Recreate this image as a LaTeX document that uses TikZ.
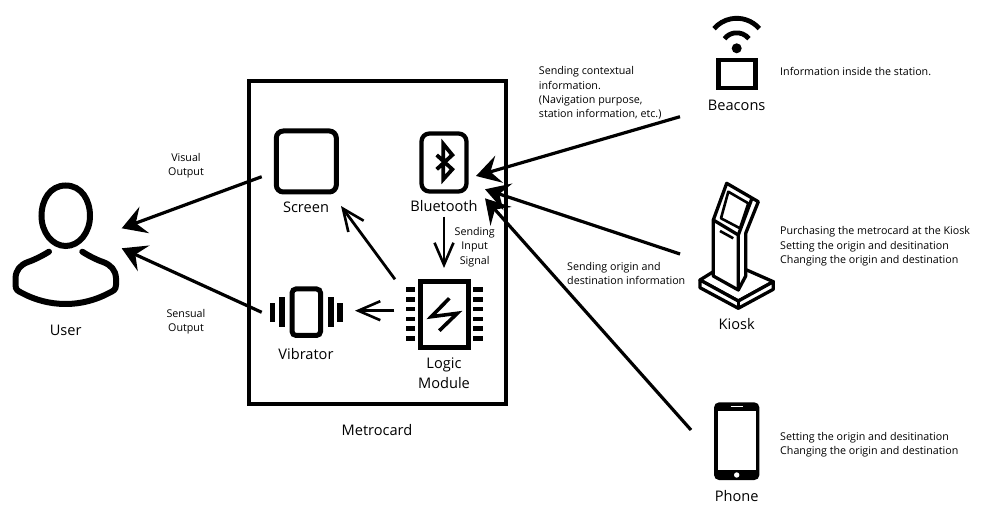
\documentclass[tikz,border=0pt]{standalone}
\usepackage{fontspec}
\setmainfont{Open Sans}
\usetikzlibrary{arrows.meta}
\tikzset{
  x=1pt,y=-1pt,
  lab/.style={font=\fontsize{14.6}{17}\selectfont,inner sep=0pt,align=center},
  note/.style={font=\fontsize{10.7}{14.3}\selectfont,inner sep=0pt,align=left,anchor=west},
  cnote/.style={font=\fontsize{10.7}{14.3}\selectfont,inner sep=0pt,align=center},
  ext/.style={line width=3.2pt,-{Stealth[length=24pt,width=28pt,inset=9pt]}},
  int/.style={line width=2.8pt,-{Straight Barb[length=22pt,width=19pt,line width=2.6pt]}},
  box/.style={draw,fill=white,inner sep=0pt,outer sep=0pt},
}
\begin{document}
\begin{tikzpicture}
\useasboundingbox (0,0) rectangle (985,510);
% frame
\node[box,line width=4.3pt,minimum width=257pt,minimum height=323pt] (frame) at (377.5,242.5) {};
\node[lab] (metrocardlabel) at (377,430) {Metrocard};
% screen
\node[box,line width=5pt,rounded corners=7pt,minimum width=60pt,minimum height=61pt] (screen) at (306.3,161.5) {};
\node[lab] (screenlabel) at (306,207) {Screen};
% bluetooth
\node[box,line width=4.3pt,rounded corners=8pt,minimum width=45pt,minimum height=58pt] (bt) at (444,162.5) {};
\draw[line width=3.8pt,line join=miter] (436.7,155) -- (452.3,169.3) -- (443.3,179.3) -- (443.3,144) -- (452.3,155) -- (436.7,169.3);
\node[lab] (btlabel) at (444,206) {Bluetooth};
% logic module
\node[box,line width=4.3pt,minimum width=48pt,minimum height=66pt] (logic) at (444.5,314.5) {};
\foreach \y in {289.3,299.2,309.1,319,328.8,338.4}{
  \fill (406,\y-2.4) rectangle (415,\y+2.4);
  \fill (473.3,\y-2.4) rectangle (482.7,\y+2.4);
}
\draw[line width=3.6pt,line join=miter] (449.3,298.3) -- (431.3,316.7) -- (457.3,313.3) -- (439.3,330.7);
\node[lab,font=\fontsize{14.6}{19.5}\selectfont] (logiclabel) at (444,373) {Logic\\Module};
% vibrator
\node[box,line width=5pt,rounded corners=4pt,minimum width=28.5pt,minimum height=46.5pt] (vib) at (306.3,312.2) {};
\fill (279,297) rectangle (284.7,327);
\fill (328,297) rectangle (333.7,327);
\fill (270,302.7) rectangle (275,321.7);
\fill (337.3,302.7) rectangle (343,321.7);
\node[lab] (viblabel) at (306,353.7) {Vibrator};
% user
\draw[line width=6pt,line cap=round] (65.7,185.5) .. controls (50,185.5) and (41.5,200) .. (41.5,216) .. controls (41.5,232) and (52,246) .. (65.7,246) .. controls (79.5,246) and (90,232) .. (90,216) .. controls (90,200) and (81.5,185.5) .. (65.7,185.5) -- cycle;
\draw[line width=6pt,line cap=round,line join=round] (49,251.7) .. controls (42,256) and (34,260) .. (28,262) .. controls (20,265) and (16,270) .. (15.5,278) -- (15.5,285) .. controls (15.5,290) and (18,291) .. (22,293) .. controls (35,300) and (50,304) .. (65.7,304) .. controls (81,304) and (96,300) .. (109,293) .. controls (113,291) and (116,290) .. (116,285) -- (116,278) .. controls (115.5,270) and (111,265) .. (103,262) .. controls (97,260) and (89,256) .. (82.3,251.7);
\node[lab] (userlabel) at (65.7,330) {User};
\node[cnote] (visual) at (186,166) {Visual\\Output};
\node[cnote] (sensual) at (186,322) {Sensual\\Output};
\node[cnote] (sendinput) at (474.7,247) {Sending\\Input\\Signal};
% beacons
\fill (736.7,48.3) circle (5pt);
\draw[line width=4.8pt] (736.7,48.3) ++(-41:30) arc[start angle=-41,end angle=-139,radius=30];
\draw[line width=4.8pt] (736.7,48.3) ++(-38:15.5) arc[start angle=-38,end angle=-142,radius=15.5];
\node[box,line width=4.3pt,minimum width=37pt,minimum height=28pt] (beacon) at (737,74) {};
\node[lab] (beaconlabel) at (736.7,105) {Beacons};
% kiosk
\begin{scope}[line join=round,line width=3.3pt]
\draw[fill=white] (700,280) -- (713.3,271.7) -- (746.7,270) -- (773.3,281.7) -- (738.3,301) -- cycle;
\draw[fill=white] (700,280) -- (700,287.7) -- (738.3,308.3) -- (773.3,289.3) -- (773.3,281.7) -- (738.3,301) -- cycle;
\draw (738.3,301) -- (738.3,308.3);
\draw[fill=white] (713.3,220) -- (726.7,183.3) -- (758.3,201.7) -- (745.7,233.3) -- (745.7,276) -- (738.3,290) -- (713.3,276) -- cycle;
\draw (713.3,220) -- (738.3,235) -- (738.3,290);
\draw (738.3,235) -- (751.7,199);
\draw[line width=2.6pt] (728.3,191.7) -- (748.3,203.3) -- (740,228.3) -- (721,218.3) -- cycle;
\draw[line width=2.6pt] (720,231) -- (733.3,238.3);
\end{scope}
\node[lab] (kiosklabel) at (736.7,324.3) {Kiosk};
% phone
\node[fill=black,rounded corners=5pt,minimum width=45.3pt,minimum height=77.7pt,inner sep=0pt] (phone) at (736.7,441.2) {};
\node[fill=white,minimum width=38pt,minimum height=59.3pt,inner sep=0pt] (phonescreen) at (736.7,440.4) {};
\draw[white,line width=1.3pt] (730.7,406.3) -- (742.7,406.3);
\fill[white] (736.7,475) circle (2.7pt);
\node[lab] (phonelabel) at (736.7,495.7) {Phone};
% notes
\node[note] (n1) at (538.7,93) {Sending contextual\\information.\\(Navigation purpose,\\station information, etc.)};
\node[note] (n2) at (567,273.3) {Sending origin and\\destination information};
\node[note] (n3) at (780,71) {Information inside the station.};
\node[note] (n4) at (780,246.5) {Purchasing the metrocard at the Kiosk\\Setting the origin and desitination\\Changing the origin and destination};
\node[note] (n5) at (780,444.5) {Setting the origin and desitination\\Changing the origin and destination};
% connector ends
\coordinate (screenout) at (261.7,176.7);
\coordinate (userin1) at (121.7,228.3);
\coordinate (vibout) at (261.7,312.3);
\coordinate (userin2) at (121.7,248.3);
\coordinate (btout) at (444,216.7);
\coordinate (logicin) at (444,268);
\coordinate (logicout1) at (395,279.3);
\coordinate (screenin) at (341,206);
\coordinate (logicout2) at (394.3,310.7);
\coordinate (vibin) at (355,310.7);
\coordinate (beaconout) at (680,116.7);
\coordinate (btin1) at (476,176);
\coordinate (kioskout) at (680,254);
\coordinate (btin2) at (485,189.3);
\coordinate (phoneout) at (691,430);
\coordinate (btin3) at (485,198.3);
\draw[ext] (screenout) -- (userin1);
\draw[ext] (vibout) -- (userin2);
\draw[int] (btout) -- (logicin);
\draw[int] (logicout1) -- (screenin);
\draw[int] (logicout2) -- (vibin);
\draw[ext] (beaconout) -- (btin1);
\draw[ext] (kioskout) -- (btin2);
\draw[ext] (phoneout) -- (btin3);
\end{tikzpicture}
\end{document}
